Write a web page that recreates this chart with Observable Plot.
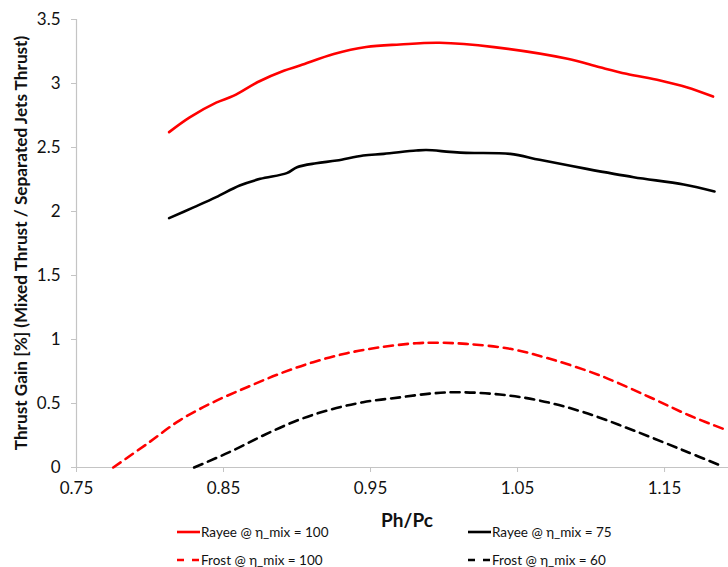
<!DOCTYPE html>
<html>
<head>
<meta charset="utf-8">
<script src="https://cdn.jsdelivr.net/npm/d3@7"></script>
<script src="https://cdn.jsdelivr.net/npm/@observablehq/plot@0.6"></script>
<style>
  body { margin: 0; background: #fff; font-family: Lato, "Open Sans", sans-serif; }
  #wrap { width: 728px; }
  #legend { position: relative; width: 728px; height: 37px; font-size: 13.5px; color: #111; overflow: visible; }
  .item { position: absolute; display: flex; align-items: center; height: 16px; line-height: 16px; white-space: nowrap; }
  .item svg { margin-right: 1px; }
</style>
</head>
<body>
<div id="wrap"></div>
<script>
// ---- data ----
const rayee100X = [0.813, 0.827, 0.845, 0.857, 0.873, 0.891, 0.902, 0.925, 0.947, 0.970, 0.997, 1.034, 1.084, 1.106, 1.124, 1.147, 1.165, 1.183];
const rayee100Y = [2.62, 2.735, 2.85, 2.905, 3.01, 3.10, 3.14, 3.23, 3.285, 3.305, 3.318, 3.284, 3.193, 3.127, 3.076, 3.023, 2.971, 2.898];

const rayee75X = [0.813, 0.830, 0.845, 0.861, 0.875, 0.893, 0.900, 0.913, 0.927, 0.945, 0.959, 0.981, 0.988, 1.004, 1.015, 1.045, 1.065, 1.097, 1.129, 1.163, 1.184];
const rayee75Y = [1.948, 2.034, 2.112, 2.203, 2.255, 2.30, 2.346, 2.377, 2.398, 2.437, 2.45, 2.476, 2.48, 2.466, 2.458, 2.45, 2.404, 2.333, 2.268, 2.211, 2.156];

const frost100X = [0.775, 0.798, 0.820, 0.843, 0.866, 0.888, 0.911, 0.934, 0.957, 0.981, 0.993, 1.015, 1.045, 1.072, 1.106, 1.140, 1.167, 1.193];
const frost100Y = [0.0, 0.185, 0.367, 0.51, 0.627, 0.732, 0.823, 0.893, 0.94, 0.971, 0.975, 0.966, 0.927, 0.849, 0.719, 0.549, 0.406, 0.289];

const frost60X = [0.830, 0.854, 0.877, 0.900, 0.922, 0.945, 0.970, 0.993, 1.011, 1.038, 1.065, 1.095, 1.129, 1.163, 1.188];
const frost60Y = [0.0, 0.12, 0.25, 0.367, 0.45, 0.51, 0.548, 0.58, 0.588, 0.57, 0.523, 0.432, 0.289, 0.133, 0.016];

const xTicks = [0.75, 0.85, 0.95, 1.05, 1.15];
const yTicks = [0, 0.5, 1, 1.5, 2, 2.5, 3, 3.5];

const seriesNames = ["Rayee @ η_mix = 100", "Rayee @ η_mix = 75", "Frost @ η_mix = 100", "Frost @ η_mix = 60"];
const seriesColors = ["#ff0000", "#000000", "#ff0000", "#000000"];
const seriesDashed = [false, false, true, true];

const xTitle = "Ph/Pc";
const yTitle = "Thrust Gain [%] (Mixed Thrust / Separated Jets Thrust)";

// ---- build tables ----
const toRows = (xs, ys) => xs.map((x, i) => ({x, y: ys[i]}));
const series = [
  toRows(rayee100X, rayee100Y),
  toRows(rayee75X, rayee75Y),
  toRows(frost100X, frost100Y),
  toRows(frost60X, frost60Y)
];

const axisGray = "#c4c4c4";

const lineMarks = series.map((rows, i) => Plot.line(rows, {
  x: "x", y: "y",
  stroke: seriesColors[i],
  strokeWidth: 2.6,
  strokeDasharray: seriesDashed[i] ? "9,6" : null,
  curve: "catmull-rom"
}));

const chart = Plot.plot({
  width: 728,
  height: 530,
  marginLeft: 76,
  marginRight: 0,
  marginTop: 19,
  marginBottom: 63,
  style: { fontFamily: "Lato, 'Open Sans', sans-serif", background: "#fff", color: "#111", overflow: "visible" },
  x: { domain: [0.75, 1.1935], label: null },
  y: { domain: [0, 3.5], label: null },
  marks: [
    Plot.ruleY([0], { stroke: axisGray, strokeWidth: 1.2 }),
    Plot.ruleX([0.75], { stroke: axisGray, strokeWidth: 1.2 }),
    Plot.axisX({
      ticks: xTicks, tickFormat: d => String(d), tickSize: 5, tickPadding: 9,
      stroke: axisGray, fill: "#111", fontSize: 17, label: null
    }),
    Plot.axisY({
      ticks: yTicks, tickFormat: d => String(d), tickSize: 5, tickPadding: 11,
      stroke: axisGray, fill: "#111", fontSize: 17, label: null
    }),
    ...lineMarks
  ]
});

document.getElementById("wrap").appendChild(chart);

const svg = d3.select(chart);

// y title (rotated)
svg.append("text")
  .attr("transform", `translate(20, ${(19 + 467) / 2}) rotate(-90)`)
  .attr("text-anchor", "middle")
  .attr("dominant-baseline", "central")
  .attr("font-family", "Lato, 'Open Sans', sans-serif")
  .attr("font-weight", "bold")
  .attr("font-size", 17.2)
  .attr("fill", "#111")
  .text(yTitle);

// x title
svg.append("text")
  .attr("x", 407)
  .attr("y", 519)
  .attr("text-anchor", "middle")
  .attr("dominant-baseline", "central")
  .attr("font-family", "Lato, 'Open Sans', sans-serif")
  .attr("font-weight", "bold")
  .attr("font-size", 19)
  .attr("fill", "#111")
  .text(xTitle);

// ---- legend ----
const legend = document.createElement("div");
legend.id = "legend";
const pos = [[177, -6], [468, -6], [177, 22], [468, 22]];
seriesNames.forEach((name, i) => {
  const item = document.createElement("div");
  item.className = "item";
  item.style.left = pos[i][0] + "px";
  item.style.top = pos[i][1] + "px";
  const dash = seriesDashed[i] ? 'stroke-dasharray="7,8"' : "";
  item.innerHTML = `<svg width="23" height="6"><line x1="0" y1="3" x2="23" y2="3" stroke="${seriesColors[i]}" stroke-width="2.6" ${dash}/></svg><span>${name}</span>`;
  legend.appendChild(item);
});
document.getElementById("wrap").appendChild(legend);
</script>
</body>
</html>
